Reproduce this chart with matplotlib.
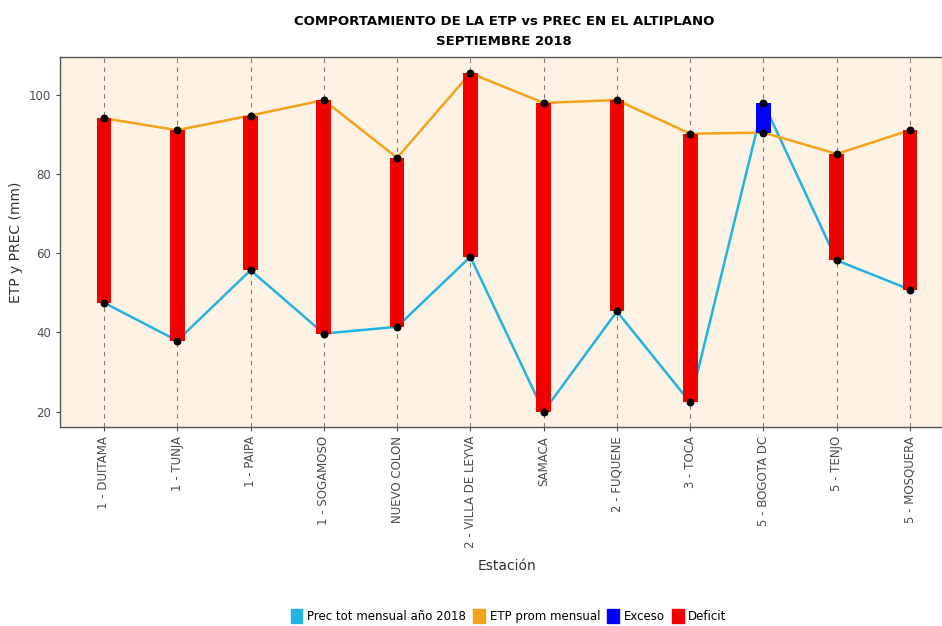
import matplotlib.pyplot as plt
from matplotlib.patches import Patch

estaciones = ["1 - DUITAMA", "1 - TUNJA", "1 - PAIPA", "1 - SOGAMOSO", "NUEVO COLON",
              "2 - VILLA DE LEYVA", "SAMACA", "2 - FUQUENE", "3 - TOCA", "5 - BOGOTA DC",
              "5 - TENJO", "5 - MOSQUERA"]
etp = [94.1, 91.1, 94.8, 98.7, 84.1, 105.5, 98.0, 98.7, 90.2, 90.5, 85.1, 91.1]
prec = [47.5, 37.9, 55.7, 39.7, 41.4, 59.1, 20.0, 45.3, 22.3, 98.0, 58.2, 50.8]

c_prec = "#22B3E3"
c_etp = "#F5A31A"
c_exc = "#0000FF"
c_def = "#F20000"

fig = plt.figure(figsize=(9.42, 6.26), dpi=100)
ax = fig.add_axes([0.0637, 0.318, 0.949, 0.591])
ax.set_facecolor("#FDF2E3")

x = list(range(1, len(estaciones) + 1))

for xi in x:
    ax.axvline(xi, color="#808080", lw=0.8, ls=(0, (4, 4)), zorder=0)

ax.plot(x, prec, color=c_prec, lw=1.8, zorder=1)
ax.plot(x, etp, color=c_etp, lw=1.8, zorder=1)

for xi, e, p in zip(x, etp, prec):
    col = c_exc if p > e else c_def
    ax.bar(xi, abs(p - e), bottom=min(p, e), width=0.2, color=col, zorder=2)

ax.scatter(x, etp, s=22, color="black", zorder=3)
ax.scatter(x, prec, s=22, color="black", zorder=3)

ax.set_xlim(0.4, 12.6)
ax.set_ylim(16.1, 109.6)
ax.set_yticks([20, 40, 60, 80, 100])
ax.set_xticks(x)
ax.set_xticklabels(estaciones, rotation=90, fontsize=8.5, color="#4D4D4D")
ax.tick_params(axis="y", labelsize=8.5, labelcolor="#4D4D4D", color="#4D4D4D", length=3)
ax.tick_params(axis="x", color="#4D4D4D", length=3)
for s in ax.spines.values():
    s.set_color("#555555")
    s.set_linewidth(1.0)

ax.set_xlabel("Estación", fontsize=10, color="#333333", labelpad=8)
ax.set_ylabel("ETP y PREC (mm)", fontsize=10, color="#333333")

fig.text(0.535, 0.965, "COMPORTAMIENTO DE LA ETP vs PREC EN EL ALTIPLANO",
         ha="center", va="center", fontsize=9.5, fontweight="bold")
fig.text(0.535, 0.933, "SEPTIEMBRE 2018",
         ha="center", va="center", fontsize=9.5, fontweight="bold")

handles = [Patch(color=c_prec, label="Prec tot mensual año 2018"),
           Patch(color=c_etp, label="ETP prom mensual"),
           Patch(color=c_exc, label="Exceso"),
           Patch(color=c_def, label="Deficit")]
fig.legend(handles=handles, loc="center", bbox_to_anchor=(0.54, 0.016), ncol=4,
           frameon=False, fontsize=8.5, handlelength=1.0, handleheight=1.4,
           handletextpad=0.4, columnspacing=0.6)

fig.savefig("out.png", dpi=100)
